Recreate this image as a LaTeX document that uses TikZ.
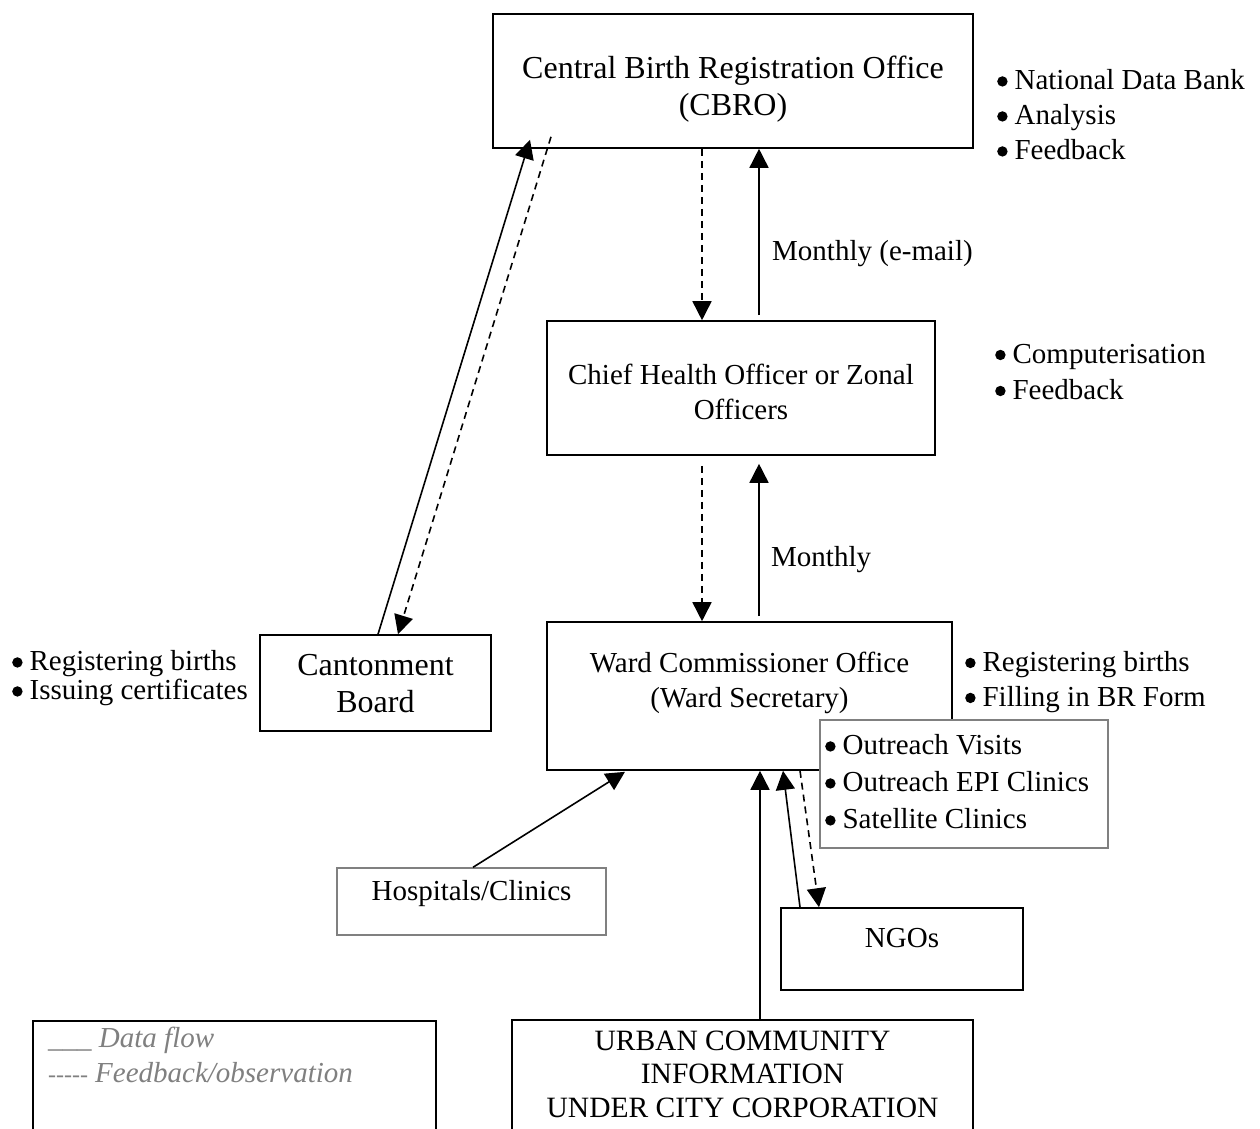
\documentclass[tikz,border=0pt]{standalone}
\usepackage{fontspec}
\setmainfont{Liberation Serif}
\usetikzlibrary{arrows.meta,calc}
\newcommand{\bl}{\tikz[baseline=0pt]\fill (5.2pt,8.5pt) circle[radius=5.2pt];\hspace{7pt}}
\definecolor{legendgray}{HTML}{808080}
\begin{document}
\begin{tikzpicture}[x=1pt,y=-1pt,
  box/.style={draw,line width=1.6pt,fill=white,inner sep=0pt},
  gbox/.style={draw=legendgray,line width=1.4pt,fill=white,inner sep=0pt},
  txt/.style={align=center,inner sep=0pt,font=\fontsize{29}{35}\selectfont},
  big/.style={align=center,inner sep=0pt,font=\fontsize{32}{37}\selectfont},
  lst/.style={align=left,anchor=west,inner sep=0pt,font=\fontsize{29}{35}\selectfont},
  lbl/.style={anchor=west,inner sep=0pt,font=\fontsize{29}{35}\selectfont},
  flow/.style={line width=1.6pt,-{Triangle[length=19pt,width=19pt]}},
  fb/.style={flow,dash pattern=on 7pt off 5pt},
]
\clip (0,0) rectangle (1260,1128);
\fill[white] (0,0) rectangle (1260,1128);

% boxes
\node[box,minimum width=480pt,minimum height=134pt] (cbro) at (733,81) {};
\node[big] (cbrot) at (733,89.5) {Central Birth Registration Office\\(CBRO)};

\node[box,minimum width=388pt,minimum height=134pt] (cho) at (741,388) {};
\node[txt] (chot) at (741,391.5) {Chief Health Officer or Zonal\\Officers};

\node[box,minimum width=405pt,minimum height=148pt] (ward) at (749.5,696) {};
\node[txt] (wardt) at (749.5,682.5) {Ward Commissioner Office\\(Ward Secretary)};

\node[box,minimum width=231pt,minimum height=96pt] (cant) at (375.5,683) {};
\node[big] (cantt) at (375.5,684) {Cantonment\\Board};

\node[gbox,minimum width=269pt,minimum height=67pt] (hosp) at (471.5,901.5) {};
\node[txt] (hospt) at (471.5,893.5) {Hospitals/Clinics};

\node[box,minimum width=242pt,minimum height=82pt] (ngos) at (902,949) {};
\node[txt] (ngost) at (902,938.5) {NGOs};

\node[box,minimum width=461pt,minimum height=140pt] (urban) at (742.5,1090) {};
\node[align=center,inner sep=0pt,font=\fontsize{29.5}{33.5}\selectfont] (urbant) at (742.5,1074)
  {URBAN COMMUNITY\\INFORMATION\\UNDER CITY CORPORATION};

\node[box,minimum width=403pt,minimum height=140pt] (legend) at (234.5,1091) {};
\node[lst,text=legendgray,font=\fontsize{29}{35}\selectfont\itshape] (legendt) at (48,1055)
  {\_\_\_ Data flow\\{\fontsize{24}{35}\selectfont\upshape -{}-{}-{}-{}-}\hspace{7pt}Feedback/observation};

% connectors
\draw[flow] ($(cho.north)+(18,-5)$) -- ($(cbro.south)+(26,0)$);
\draw[fb] ($(cbro.south)+(-31,0)$) -- ($(cho.north)+(-39,0)$);
\draw[fb] ($(cho.south)+(-39,10)$) -- ($(ward.north)+(-47.5,0)$);
\draw[flow] ($(ward.north)+(9.5,-5)$) -- ($(cho.south)+(18,8)$);
\draw[flow] ($(cant.north)+(2.5,0)$) -- ($(cbro.south)+(-203,-9)$);
\draw[fb] ($(cbro.south)+(-182,-12)$) -- ($(cant.north)+(22.5,0)$);
\draw[flow] ($(hosp.north)+(1.5,0)$) -- ($(ward.south)+(-124.5,1)$);
\draw[flow] ($(urban.north)+(17.5,0)$) -- ($(ward.south)+(10.5,0)$);
\draw[flow] ($(ngos.north)+(-102,0)$) -- ($(ward.south)+(33.5,0)$);
\draw[fb] ($(ward.south)+(50.5,0)$) -- ($(ngos.north)+(-83,0)$);

% outreach box on top of ward box
\node[gbox,minimum width=288pt,minimum height=128pt] (outr) at (964,784) {};
\node[lst,font=\fontsize{29}{37}\selectfont] (outrt) at (825,782)
  {\bl Outreach Visits\\\bl Outreach EPI Clinics\\\bl Satellite Clinics};

% side lists
\node[lst] (cbrol) at (997,115) {\bl National Data Bank\\\bl Analysis\\\bl Feedback};
\node[lst,font=\fontsize{29}{36}\selectfont] (chol) at (995,372) {\bl Computerisation\\\bl Feedback};
\node[lst] (wardl) at (965,682) {\bl Registering births\\\bl Filling in BR Form};
\node[lst,font=\fontsize{29}{29}\selectfont] (cantl) at (12,678.5) {\bl Registering births\\\bl Issuing certificates};

% labels
\node[lbl] (m1) at (772,254) {Monthly (e-mail)};
\node[lbl] (m2) at (771,560) {Monthly};
\end{tikzpicture}
\end{document}
